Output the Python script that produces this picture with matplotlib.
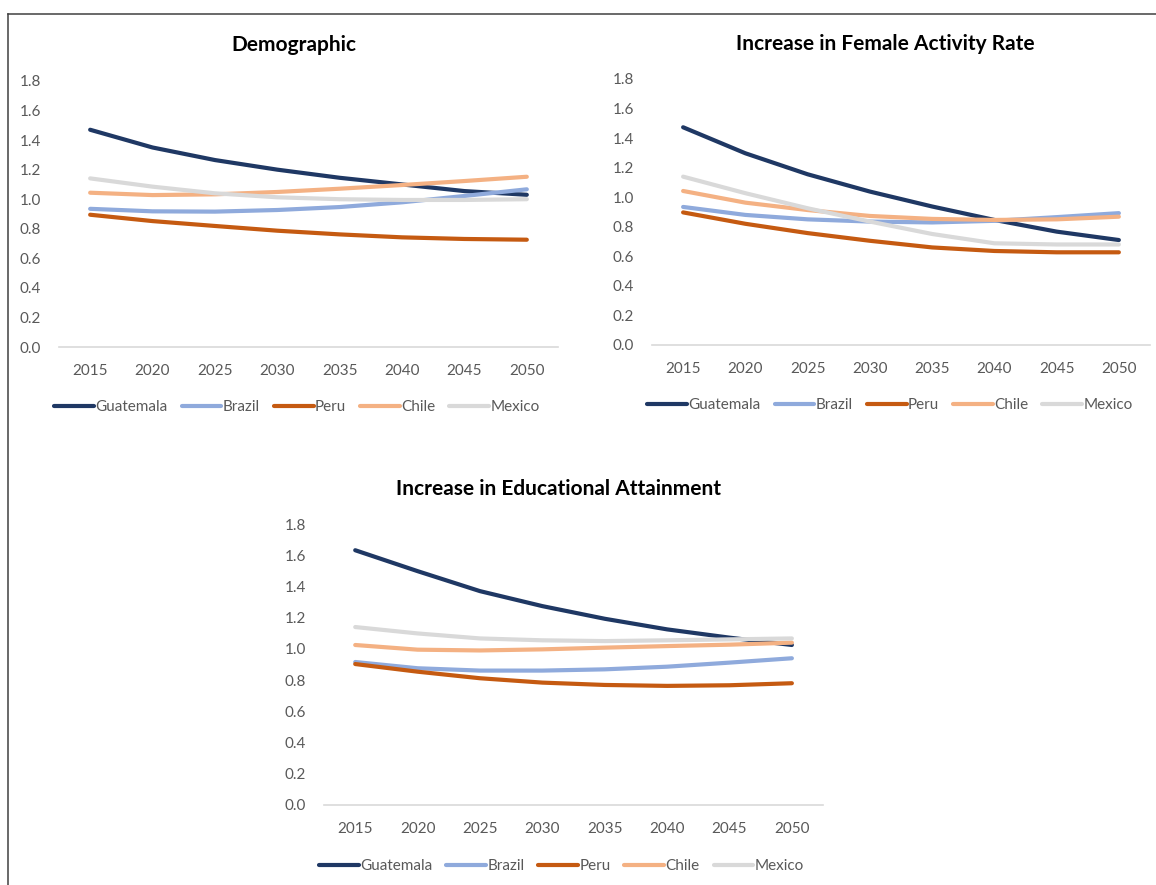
import matplotlib.pyplot as plt
from matplotlib.lines import Line2D

years = ["2015", "2020", "2025", "2030", "2035", "2040", "2045", "2050"]
countries = ["Guatemala", "Brazil", "Peru", "Chile", "Mexico"]
colors = ["#1f3864", "#8faadc", "#c55a11", "#f4b183", "#d9d9d9"]

# Demographic
demo_guatemala = [1.47, 1.35, 1.265, 1.20, 1.145, 1.10, 1.055, 1.03]
demo_brazil = [0.935, 0.918, 0.916, 0.927, 0.947, 0.979, 1.022, 1.067]
demo_peru = [0.895, 0.852, 0.819, 0.787, 0.762, 0.742, 0.731, 0.726]
demo_chile = [1.044, 1.028, 1.033, 1.049, 1.071, 1.096, 1.123, 1.152]
demo_mexico = [1.141, 1.085, 1.04, 1.013, 1.0, 0.995, 0.995, 1.0]

# Increase in Female Activity Rate
fem_guatemala = [1.473, 1.297, 1.155, 1.038, 0.937, 0.846, 0.767, 0.71]
fem_brazil = [0.934, 0.88, 0.85, 0.835, 0.829, 0.84, 0.865, 0.892]
fem_peru = [0.897, 0.82, 0.757, 0.705, 0.66, 0.636, 0.627, 0.627]
fem_chile = [1.042, 0.963, 0.913, 0.873, 0.853, 0.846, 0.85, 0.868]
fem_mexico = [1.139, 1.027, 0.925, 0.835, 0.751, 0.688, 0.68, 0.68]

# Increase in Educational Attainment
edu_guatemala = [1.632, 1.498, 1.37, 1.274, 1.193, 1.125, 1.072, 1.025]
edu_brazil = [0.916, 0.876, 0.861, 0.861, 0.869, 0.886, 0.912, 0.94]
edu_peru = [0.903, 0.854, 0.812, 0.784, 0.769, 0.763, 0.767, 0.78]
edu_chile = [1.025, 0.995, 0.99, 0.997, 1.008, 1.018, 1.027, 1.04]
edu_mexico = [1.14, 1.099, 1.067, 1.055, 1.05, 1.055, 1.061, 1.067]

plt.rcParams['font.family'] = ['Lato', 'DejaVu Sans']
grey = "#595959"

fig = plt.figure(figsize=(11.56, 8.85), dpi=100)


def draw(rect, series, title, title_xy, legend_xy):
    ax = fig.add_axes(rect)
    x = range(len(years))
    for vals, name, c in zip(series, countries, colors):
        ax.plot(x, vals, color=c, linewidth=3, label=name, solid_capstyle='round')
    ax.set_xlim(-0.5, len(years) - 0.5)
    ax.set_ylim(0, 1.8)
    ax.set_yticks([i * 0.2 for i in range(10)])
    ax.set_yticklabels(["%.1f" % (i * 0.2) for i in range(10)])
    ax.set_xticks(list(x))
    ax.set_xticklabels(years)
    for s in ["top", "right", "left"]:
        ax.spines[s].set_visible(False)
    ax.spines["bottom"].set_color("#d9d9d9")
    ax.spines["bottom"].set_linewidth(1.2)
    ax.tick_params(length=0, labelsize=11, colors=grey)
    ax.tick_params(axis='y', pad=13)
    ax.tick_params(axis='x', pad=12)
    fig.text(title_xy[0], title_xy[1], title, ha='center', va='center',
             fontsize=15, fontweight='bold', color='black')
    fig.legend(*ax.get_legend_handles_labels(), loc='center', ncol=5,
               bbox_to_anchor=legend_xy, bbox_transform=fig.transFigure,
               frameon=False, fontsize=11, labelcolor=grey,
               handlelength=2.6, handletextpad=0.1, columnspacing=0.9)
    return ax


draw([0.0510, 0.6079, 0.4317, 0.3006],
     [demo_guatemala, demo_brazil, demo_peru, demo_chile, demo_mexico],
     "Demographic", (0.254, 1 - 45 / 885), (0.257, 1 - 407 / 885))
draw([0.5640, 0.6102, 0.4308, 0.3006],
     [fem_guatemala, fem_brazil, fem_peru, fem_chile, fem_mexico],
     "Increase in Female Activity Rate", (0.766, 1 - 44 / 885), (0.770, 1 - 405 / 885))
draw([0.2803, 0.0904, 0.4317, 0.3175],
     [edu_guatemala, edu_brazil, edu_peru, edu_chile, edu_mexico],
     "Increase in Educational Attainment", (0.4827, 1 - 489 / 885), (0.4857, 1 - 866 / 885))

# frame lines at top and left
fig.add_artist(Line2D([8 / 1156, 1], [1 - 14 / 885, 1 - 14 / 885], color="#404040", linewidth=1.1))
fig.add_artist(Line2D([8 / 1156, 8 / 1156], [0, 1 - 14 / 885], color="#404040", linewidth=1.1))

plt.savefig("out.png", dpi=100)
